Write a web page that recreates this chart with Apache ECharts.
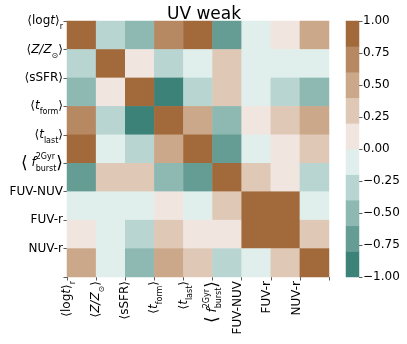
<!DOCTYPE html>
<html>
<head>
<meta charset="utf-8">
<script src="https://cdn.jsdelivr.net/npm/echarts@6/dist/echarts.min.js"></script>
<style>
  html, body { margin: 0; padding: 0; background: #fff; }
</style>
</head>
<body>
<div id="chart" style="width: 407px; height: 344px;"></div>
<script>
// row/column order, top to bottom and left to right
const labels = ["logt", "Z", "sSFR", "tform", "tlast", "fburst", "FUV-NUV", "FUV-r", "NUV-r"];

// correlation values
const corr = [
  [ 1.00, -0.30, -0.50,  0.70,  0.90, -0.65, -0.10,  0.10,  0.50],
  [-0.30,  1.00,  0.10, -0.30, -0.10,  0.30, -0.10, -0.10, -0.10],
  [-0.50,  0.10,  1.00, -0.90, -0.30,  0.30, -0.10, -0.30, -0.50],
  [ 0.70, -0.30, -0.90,  1.00,  0.50, -0.50,  0.10,  0.30,  0.50],
  [ 0.90, -0.10, -0.30,  0.50,  1.00, -0.65, -0.10,  0.10,  0.30],
  [-0.65,  0.30,  0.30, -0.50, -0.65,  1.00,  0.30,  0.10, -0.30],
  [-0.10, -0.10, -0.10,  0.10, -0.10,  0.30,  1.00,  0.95, -0.10],
  [ 0.10, -0.10, -0.30,  0.30,  0.10,  0.10,  0.95,  1.00,  0.30],
  [ 0.50, -0.10, -0.50,  0.50,  0.30, -0.30, -0.10,  0.30,  1.00]
];

// colorbar: bin edges (bottom to top) and their colours
const binEdges = [-1, -0.8, -0.6, -0.4, -0.2, 0, 0.2, 0.4, 0.6, 0.8, 1];
const binColors = ["#3d8279", "#659d95", "#8eb9b3", "#b8d5d1", "#e0efec",
                   "#f1e6df", "#dfc8b5", "#cba889", "#b78963", "#a26a3a"];
const cbTicks = [-1, -0.75, -0.5, -0.25, 0, 0.25, 0.5, 0.75, 1];

const FONT = "DejaVu Sans";

// rich text for the math labels
const mathLabel = {
  "logt": "{b|⟨}{n|log}{i|t}{b|⟩}{s|r}",
  "Z": "{b|⟨}{i|Z/Z}{s|⊙}{b|⟩}",
  "sSFR": "{b|⟨}{n|sSFR}{b|⟩}",
  "tform": "{b|⟨}{i|t}{s|form}{b|⟩}",
  "tlast": "{b|⟨}{i|t}{s|last}{b|⟩}",
  "fburst": "{B|⟨}{i| f}{u|2Gyr}{s|burst}{B|⟩}"
};

const rich = {
  n: { fontFamily: FONT, fontSize: 12, color: "#000", lineHeight: 20, align: "left" },
  i: { fontFamily: FONT, fontSize: 12, fontStyle: "italic", color: "#000", lineHeight: 20, align: "left" },
  b: { fontFamily: FONT, fontSize: 12, color: "#000", lineHeight: 20, align: "left" },
  B: { fontFamily: FONT, fontSize: 17, color: "#000", lineHeight: 20, align: "left" },
  s: { fontFamily: FONT, fontSize: 8, color: "#000", lineHeight: 9, verticalAlign: "bottom", align: "left" },
  u: { fontFamily: FONT, fontSize: 8, color: "#000", lineHeight: 9, verticalAlign: "top", width: 0, align: "left" },
  p: { fontFamily: FONT, fontSize: 12, color: "#000", padding: [0, 0, 7, 0] },
  q: { fontFamily: FONT, fontSize: 12, color: "#000" }
};

function yLabel(v) {
  if (!v) return "";
  return mathLabel[v] || "{q|" + v + "}";
}
function xLabel(v) {
  if (!v) return "";
  return mathLabel[v] || "{p|" + v + "}";
}

const cells = [];
corr.forEach((row, r) => row.forEach((v, c) => cells.push([c, r, v])));
const cbData = [];
for (let k = 0; k < binColors.length; k++) {
  cbData.push([0, k, (binEdges[k] + binEdges[k + 1]) / 2]);
}
const pieces = binColors.map((col, k) => ({ min: binEdges[k], max: binEdges[k + 1], color: col }));

const tickStyle = { show: true, length: 3.5, lineStyle: { color: "#333", width: 0.8 } };
const hidden = { axisLine: { show: false }, axisTick: { show: false }, axisLabel: { show: false }, splitLine: { show: false } };

const chart = echarts.init(document.getElementById("chart"), null, { renderer: "canvas" });
chart.setOption({
  animation: false,
  title: {
    text: "UV weak",
    left: 199,
    top: 1,
    textAlign: "center",
    textStyle: { fontFamily: FONT, fontSize: 17, fontWeight: "normal", color: "#000" }
  },
  grid: [
    { left: 67, top: 21, width: 262, height: 256 },
    { left: 346, top: 21, width: 13, height: 256 }
  ],
  xAxis: [
    Object.assign({ gridIndex: 0, type: "category", data: labels }, hidden),
    {
      gridIndex: 0, type: "category", position: "bottom", boundaryGap: false,
      data: labels.concat([""]),
      axisLine: { show: false }, splitLine: { show: false },
      axisTick: tickStyle,
      axisLabel: { interval: 0, rotate: 90, margin: 4, formatter: xLabel, rich: rich }
    },
    Object.assign({ gridIndex: 1, type: "category", data: [""] }, hidden)
  ],
  yAxis: [
    Object.assign({ gridIndex: 0, type: "category", data: labels, inverse: true }, hidden),
    {
      gridIndex: 0, type: "category", position: "left", inverse: true, boundaryGap: false,
      data: labels.concat([""]),
      axisLine: { show: false }, splitLine: { show: false },
      axisTick: tickStyle,
      axisLabel: { interval: 0, margin: 4, formatter: yLabel, rich: rich }
    },
    Object.assign({ gridIndex: 1, type: "category", data: binColors.map((c, k) => k) }, hidden),
    {
      gridIndex: 1, type: "value", position: "right", min: -1, max: 1, interval: 0.25,
      axisLine: { show: false }, splitLine: { show: false },
      axisTick: tickStyle,
      axisLabel: {
        margin: 4, fontFamily: FONT, fontSize: 12, color: "#000",
        formatter: v => (cbTicks.indexOf(v) >= 0 ? v.toFixed(2).replace("-", "\u2212") : "")
      }
    }
  ],
  visualMap: {
    type: "piecewise", show: false, seriesIndex: [0, 1], pieces: pieces
  },
  series: [
    { type: "heatmap", xAxisIndex: 0, yAxisIndex: 0, data: cells, itemStyle: { borderWidth: 0 } },
    { type: "heatmap", xAxisIndex: 2, yAxisIndex: 2, data: cbData, itemStyle: { borderWidth: 0 } }
  ]
});
</script>
</body>
</html>
